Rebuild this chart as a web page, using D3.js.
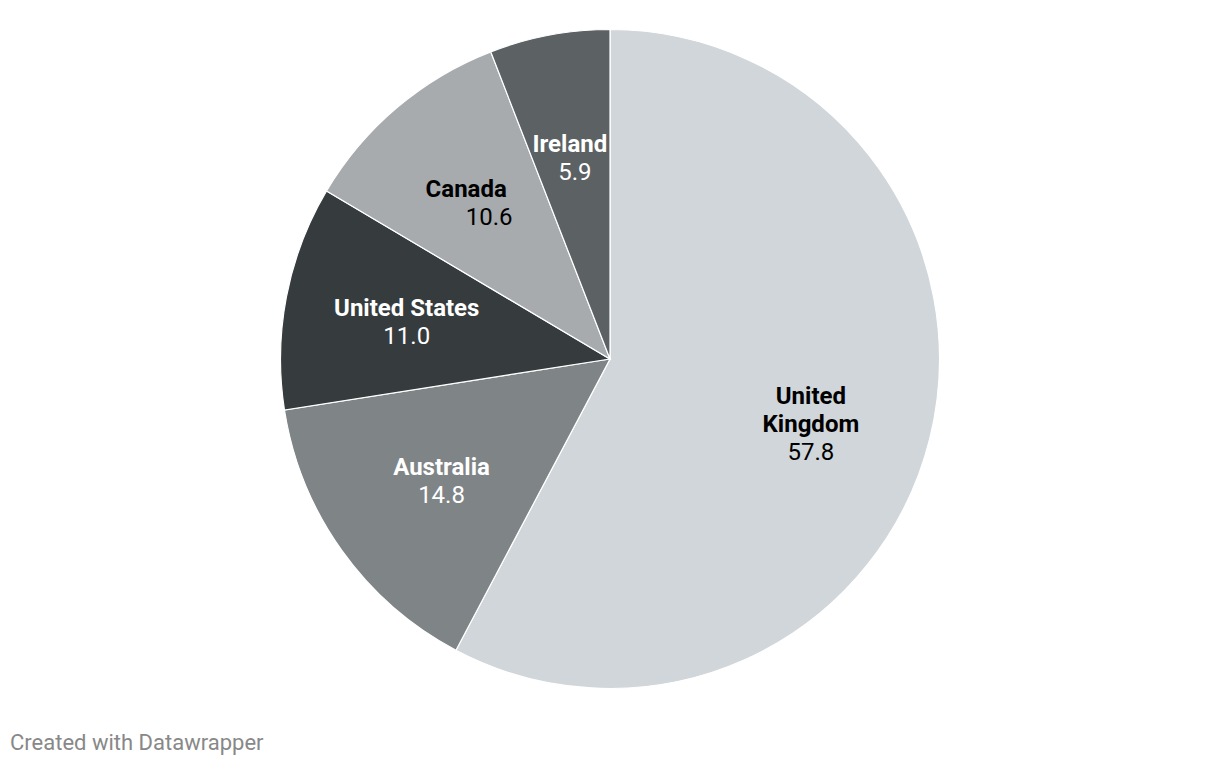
<!DOCTYPE html>
<html><head><meta charset="utf-8">
<script src="https://cdn.jsdelivr.net/npm/d3@7"></script>
<style>body{margin:0;background:#fff;}svg{display:block;font-family:Roboto,sans-serif;}</style>
</head><body>
<svg id="c" width="1220" height="766"></svg>
<script>
const categories = ["United Kingdom","Australia","United States","Canada","Ireland"];
const values = [57.8,14.8,11.0,10.6,5.9];
const labelLines = [["United","Kingdom"],["Australia"],["United States"],["Canada"],["Ireland"]];
const colors = ["#d1d6da","#7f8486","#363b3e","#a7abae","#5c6164"];
const textColors = ["#000","#fff","#fff","#000","#fff"];

const svg = d3.select("#c");
const cx = 610, cy = 359, R = 329.5;
const g = svg.append("g").attr("transform",`translate(${cx},${cy})`);
const data = categories.map((c,i)=>({c,v:values[i],i}));
const pie = d3.pie().value(d=>d.v).sort(null);
const arcs = pie(data);
const arc = d3.arc().innerRadius(0).outerRadius(R);
g.selectAll("path").data(arcs).join("path")
  .attr("d",arc).attr("fill",d=>colors[d.data.i])
  .attr("stroke","#fff").attr("stroke-width",1.2);

const labelArc = d3.arc().innerRadius(207).outerRadius(207);
// small layout nudges (name dx, value dx, block dy)
const nudge = [[0,0,13],[0,0,0],[0,0,0],[-10,13,0],[-2,3,0]];
const lh = 28;
arcs.forEach(a=>{
  const i = a.data.i;
  const [x,y] = labelArc.centroid(a);
  const lines = labelLines[i];
  const n = lines.length + 1;
  const top = y + nudge[i][2] - (n-1)*lh/2;
  const t = g.append("g");
  lines.forEach((ln,k)=>{
    t.append("text").attr("x",x+nudge[i][0]).attr("y",top+k*lh).attr("dy","0.42em")
      .attr("text-anchor","middle").attr("font-size",24).attr("font-weight",700)
      .attr("fill",textColors[i]).text(ln);
  });
  t.append("text").attr("x",x+nudge[i][1]).attr("y",top+lines.length*lh).attr("dy","0.42em")
    .attr("text-anchor","middle").attr("font-size",24).attr("font-weight",400)
    .attr("fill",textColors[i]).text(d3.format(".1f")(values[i]));
});

svg.append("text").attr("x",10).attr("y",750).attr("font-size",22)
  .attr("fill","#888").text("Created with Datawrapper");
</script>
</body></html>
